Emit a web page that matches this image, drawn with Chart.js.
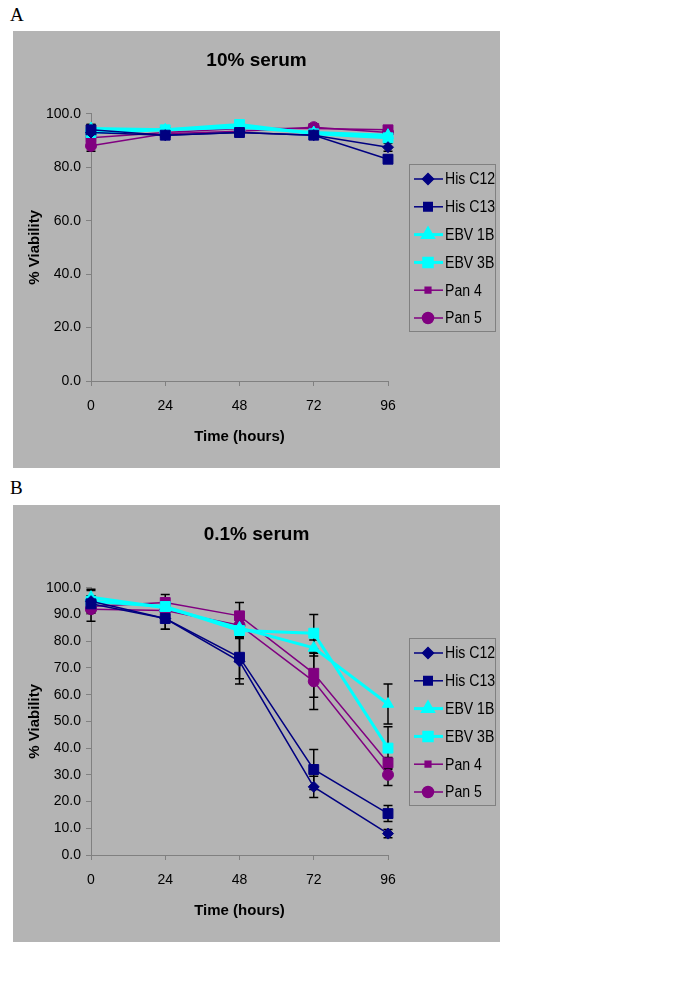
<!DOCTYPE html>
<html>
<head>
<meta charset="utf-8">
<script src="https://cdn.jsdelivr.net/npm/chart.js@4/dist/chart.umd.min.js"></script>
<style>
  body { margin: 0; background: #fff; }
  .lbl { position: absolute; left: 10px; font: 19px "Liberation Serif", "Times New Roman", serif; }
  .panel { position: absolute; left: 13px; width: 487px; height: 437px; background: #b4b4b4; }
</style>
</head>
<body>
<div class="lbl" style="top:4px">A</div>
<div class="panel" style="top:31px"><canvas id="chartA" width="487" height="437"></canvas></div>
<div class="lbl" style="top:477px">B</div>
<div class="panel" style="top:505px"><canvas id="chartB" width="487" height="437"></canvas></div>
<script>
// time points and series names
const hours = [0, 24, 48, 72, 96];
const lines = ['His C12', 'His C13', 'EBV 1B', 'EBV 3B', 'Pan 4', 'Pan 5'];

// A: 10% serum
const a_hisC12 = [93, 92, 93, 92, 87.5];
const a_hisC13 = [94, 92, 93, 92, 83];
const a_ebv1B  = [94.5, 94, 95, 93, 92];
const a_ebv3B  = [93, 94, 96, 92.5, 91];
const a_pan4   = [91, 93, 94.5, 94.5, 94];
const a_pan5   = [88, 92.5, 93.5, 95, 93];
const a_errC12 = [1.5, 1, 1, 1, 1.5];
const a_errC13 = [2, 1, 1, 1, 1.5];
const a_err1B  = [1.5, 1, 1, 1, 1];
const a_err3B  = [1.5, 1, 1, 1, 1];
const a_errP4  = [2, 1, 1, 1, 1];
const a_errP5  = [2, 1, 1, 1, 1];

// B: 0.1% serum
const b_hisC12 = [95, 88.5, 72.5, 25.5, 8];
const b_hisC13 = [94, 88.5, 74, 32, 15.5];
const b_ebv1B  = [96.5, 92.5, 85, 77.5, 56.5];
const b_ebv3B  = [95, 93, 84, 83, 40];
const b_pan4   = [93, 94.5, 89.5, 68, 34.5];
const b_pan5   = [92, 91.5, 86, 65, 30];
const b_errC12 = [4, 4, 8.5, 4, 1.5];
const b_errC13 = [3, 4, 8, 7.5, 3];
const b_err1B  = [3, 2, 3, 3, 7.5];
const b_err3B  = [2, 2, 2.5, 7, 8];
const b_errP4  = [2.5, 3, 5, 9, 2];
const b_errP5  = [4.5, 2, 4.5, 10.5, 4];

const navy = '#000080', cyan = '#00ffff', purple = '#800080';
const styles = [
  { color: navy, style: 'rectRot', r: 5.5, w: 1.5 },
  { color: navy, style: 'rect', r: 7, w: 1.5 },
  { color: cyan, style: 'triangle', r: 6.5, w: 3 },
  { color: cyan, style: 'rect', r: 7, w: 3 },
  { color: purple, style: 'rect', r: 7, w: 1.5 },
  { color: purple, style: 'circle', r: 5.5, w: 1.5 }
];

const fam = '"Liberation Sans", Arial, sans-serif';
Chart.defaults.font.family = fam;
Chart.defaults.color = '#000';

const errorBars = {
  id: 'errorBars',
  beforeDatasetsDraw(chart) {
    const ctx = chart.ctx, y = chart.scales.y;
    ctx.save();
    ctx.strokeStyle = '#000';
    ctx.lineWidth = 1.5;
    chart.data.datasets.forEach((ds, i) => {
      chart.getDatasetMeta(i).data.forEach((pt, j) => {
        const e = ds.errors[j];
        const top = y.getPixelForValue(ds.data[j].y + e);
        const bot = y.getPixelForValue(ds.data[j].y - e);
        ctx.beginPath();
        ctx.moveTo(pt.x, top); ctx.lineTo(pt.x, bot);
        ctx.moveTo(pt.x - 4.5, top); ctx.lineTo(pt.x + 4.5, top);
        ctx.moveTo(pt.x - 4.5, bot); ctx.lineTo(pt.x + 4.5, bot);
        ctx.stroke();
      });
    });
    ctx.restore();
  }
};

// Excel-style legend: boxed, line + marker per row
const boxLegend = {
  id: 'boxLegend',
  afterDraw(chart) {
    const ctx = chart.ctx, a = chart.chartArea;
    const w = 86, h = 167;
    const x0 = a.right + 21, y0 = Math.round((a.top + a.bottom) / 2 - h / 2);
    ctx.save();
    ctx.strokeStyle = '#808080';
    ctx.lineWidth = 1;
    ctx.strokeRect(x0 + 0.5, y0 + 0.5, w, h);
    chart.data.datasets.forEach((ds, i) => {
      const cy = y0 + 15 + i * 27.8;
      ctx.strokeStyle = ds.borderColor;
      ctx.lineWidth = ds.borderWidth;
      ctx.beginPath();
      ctx.moveTo(x0 + 5, cy); ctx.lineTo(x0 + 34, cy);
      ctx.stroke();
      const r = i === 4 ? 4 : Math.min(ds.pointRadius, 6);
      ctx.fillStyle = ds.borderColor;
      Chart.helpers.drawPoint(ctx, { pointStyle: ds.pointStyle, radius: r, borderWidth: 1 }, x0 + 19, cy);
      ctx.save();
      ctx.translate(x0 + 36, cy + 1);
      ctx.scale(0.88, 1);
      ctx.font = '16px ' + fam;
      ctx.textBaseline = 'middle';
      ctx.fillStyle = '#000';
      ctx.fillText(ds.label, 0, 0);
      ctx.restore();
    });
    ctx.restore();
  }
};

function makeChart(id, title, series, errs, step) {
  const datasets = series.map((vals, i) => ({
    label: lines[i],
    data: hours.map((h, j) => ({ x: h, y: vals[j] })),
    errors: errs[i],
    borderColor: styles[i].color,
    backgroundColor: styles[i].color,
    pointBackgroundColor: styles[i].color,
    pointBorderColor: styles[i].color,
    borderWidth: styles[i].w,
    pointStyle: styles[i].style,
    pointRadius: styles[i].r,
    pointBorderWidth: 1,
    clip: false,
    tension: 0
  }));
  return new Chart(document.getElementById(id), {
    type: 'line',
    data: { datasets },
    plugins: [errorBars, boxLegend],
    options: {
      responsive: false,
      animation: false,
      layout: { padding: 0 },
      plugins: {
        legend: { display: false },
        tooltip: { enabled: false },
        title: {
          display: true, text: title,
          font: { size: 19, weight: 'bold' },
          padding: { top: 18, bottom: 42 }
        }
      },
      scales: {
        x: {
          type: 'linear', min: 0, max: 96,
          afterFit: s => { s.height = 87; },
          ticks: { stepSize: 24, padding: 12, font: { size: 14 } },
          grid: { drawOnChartArea: false, tickLength: 5, color: '#808080' },
          border: { color: '#808080' },
          title: { display: true, text: 'Time (hours)', font: { size: 15, weight: 'bold' }, padding: { top: 0, bottom: 22 } }
        },
        y: {
          min: 0, max: 100,
          afterFit: s => { s.width = 78; },
          ticks: { stepSize: step, padding: 5, font: { size: 14 }, callback: v => v.toFixed(1) },
          grid: { drawOnChartArea: false, tickLength: 5, color: '#808080' },
          border: { color: '#808080' },
          title: { display: true, text: '% Viability', font: { size: 15, weight: 'bold' }, padding: { top: 13, bottom: 0 } }
        },
        // empty right-hand box that reserves room for the legend
        yR: {
          position: 'right',
          afterFit: s => { s.width = 112; },
          ticks: { display: false },
          grid: { display: false },
          border: { display: false }
        }
      }
    }
  });
}

makeChart('chartA', '10% serum',
  [a_hisC12, a_hisC13, a_ebv1B, a_ebv3B, a_pan4, a_pan5],
  [a_errC12, a_errC13, a_err1B, a_err3B, a_errP4, a_errP5], 20);
makeChart('chartB', '0.1% serum',
  [b_hisC12, b_hisC13, b_ebv1B, b_ebv3B, b_pan4, b_pan5],
  [b_errC12, b_errC13, b_err1B, b_err3B, b_errP4, b_errP5], 10);
</script>
</body>
</html>
